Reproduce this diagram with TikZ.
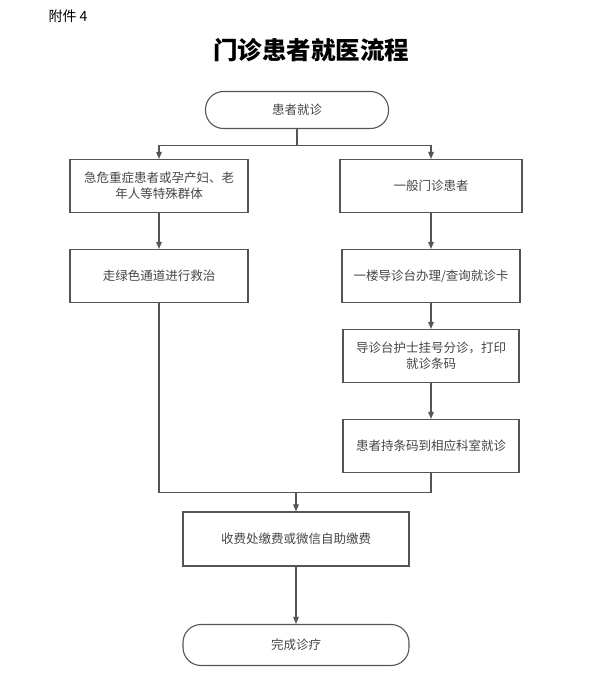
\documentclass[tikz,border=0pt]{standalone}
\usepackage{fontspec}
\setmainfont{Noto Sans CJK SC}
\usetikzlibrary{arrows.meta, positioning, calc}
\definecolor{linegray}{RGB}{85, 85, 85}
\definecolor{textgray}{RGB}{70, 70, 70}

\begin{document}
\begin{tikzpicture}[
        x=1pt, y=-1pt,
        process/.style={rectangle, draw=linegray, line width=1.1pt, fill=white, minimum width=180pt, minimum height=53pt, inner sep=2pt, align=center, text=textgray, font=\fontsize{12.5}{16}\selectfont},
        terminal/.style={rectangle, draw=linegray, line width=1.1pt, fill=white, rounded corners=18pt, minimum width=183pt, minimum height=37pt, align=center, text=textgray, font=\fontsize{12.5}{16}\selectfont},
        arrow/.style={-{Triangle[length=7pt, width=5.5pt]}, line width=1.1pt, draw=linegray},
        line/.style={line width=1.1pt, draw=linegray}
    ]
        \useasboundingbox (0,0) rectangle (590,690);

        % Heading
        \node[anchor=west, font=\fontsize{14}{16}\selectfont] (annex) at (45,16) {附件 4};
        \node[font=\fontsize{24.5}{28}\selectfont\bfseries] (title) at (311,50) {门诊患者就医流程};

        % Start
        \node[terminal] (start) at (297,110) {患者就诊};

        % Left branch
        \node[process, minimum width=178pt] (special) at (159,186) {急危重症患者或孕产妇、老\\年人等特殊群体};
        \node[process, minimum width=178pt] (green) at (159,276) {走绿色通道进行救治};

        % Right branch
        \node[process, minimum width=182pt] (general) at (431,186) {一般门诊患者};
        \node[process, minimum width=178pt] (card) at (431,276) {一楼导诊台办理/查询就诊卡};
        \node[process, minimum width=176pt] (triage) at (431,356) {导诊台护士挂号分诊，打印\\就诊条码};
        \node[process, minimum width=176pt] (visit) at (431,446) {患者持条码到相应科室就诊};

        % Payment and end
        \node[process, minimum width=226pt, minimum height=54pt] (pay) at (296,539) {收费处缴费或微信自助缴费};
        \node[terminal, minimum width=226pt, minimum height=41pt] (finish) at (296,645) {完成诊疗};

        % Connections
        \draw[line] (start.south) -- ++(0,16) coordinate (split);
        \draw[arrow] (split) -| (special.north);
        \draw[arrow] (split) -| (general.north);
        \draw[arrow] (special) -- (green);
        \draw[arrow] (general) -- (card);
        \draw[arrow] (card) -- (triage);
        \draw[arrow] (triage) -- (visit);

        \coordinate (merge) at ($(pay.north)+(0,-19)$);
        \draw[line] (green.south) |- (merge);
        \draw[line] (visit.south) |- (merge);
        \draw[arrow] (merge) -- (pay.north);
        \draw[arrow] (pay) -- (finish);

    \end{tikzpicture}
\end{document}
